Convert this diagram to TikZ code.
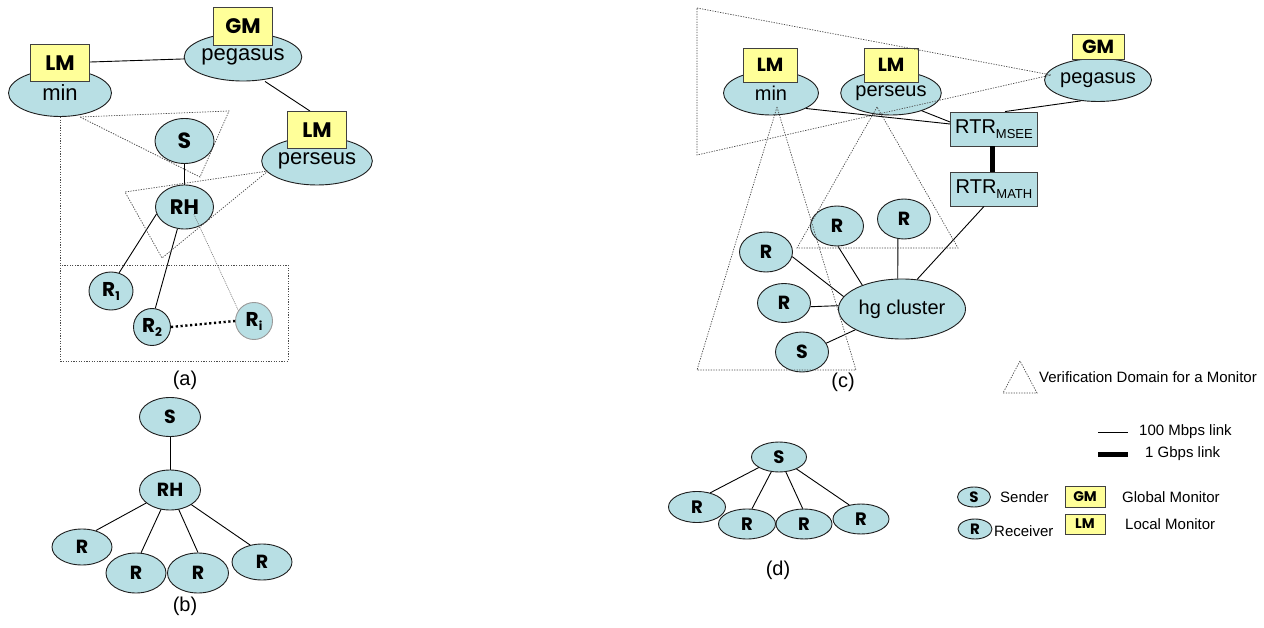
\documentclass[tikz,border=0pt]{standalone}
\usepackage{fontspec}
\setmainfont{Liberation Sans}
\newfontfamily\comic{Poppins}
\usetikzlibrary{shapes.geometric,calc}
\definecolor{lblue}{RGB}{184,223,228}
\definecolor{lyel}{RGB}{255,255,153}
\definecolor{edge}{RGB}{30,30,30}
\pgfdeclarelayer{bg}
\pgfsetlayers{bg,main}
\newcommand{\fs}[1]{\fontsize{#1}{#1}\selectfont}
\tikzset{
  ell/.style={ellipse, draw=edge, fill=lblue, line width=0.9pt, inner sep=0pt},
  mon/.style={rectangle, draw=black!75, fill=lyel, line width=0.9pt, inner sep=0pt},
  cm/.style={font=\comic\bfseries\fs{#1}},
  tx/.style={font=\fs{#1}},
  link/.style={draw=black, line width=0.9pt},
  fat/.style={draw=black, line width=5pt},
  dom/.style={draw=black!70, line width=0.7pt, dash pattern=on 1.3pt off 1.3pt},
  subcap/.style={font=\fs{20}},
}
\newcommand{\Rsub}[1]{R{\fs{12}\raisebox{-4pt}{#1}}}
\begin{document}
\begin{tikzpicture}[x=1pt,y=-1pt]
\useasboundingbox (0,0) rectangle (1264,628);
\begin{pgfonlayer}{bg}
\fill[white] (0,0) rectangle (1264,628);
\end{pgfonlayer}

% ---------------- (a) ----------------
\node[ell, minimum width=103pt, minimum height=47pt, tx=22] (minA) at (60,93) {min};
\node[mon, minimum width=59pt, minimum height=37pt, cm=21] (lmminA) at (60,63) {LM};
\node[ell, minimum width=104pt, minimum height=48pt, tx=22] (pegA) at (243,57) {pegasus};
\node[mon, minimum width=59pt, minimum height=38pt, cm=21] (gmA) at (243,26) {GM};
\node[ell, minimum width=103pt, minimum height=48pt, tx=22] (perA) at (317,161) {perseus};
\node[mon, minimum width=59pt, minimum height=37pt, cm=21] (lmperA) at (317,130) {LM};
\node[ell, minimum width=59pt, minimum height=45pt, cm=22] (sA) at (184.5,141) {S};
\node[ell, minimum width=58pt, minimum height=44pt, cm=21] (rhA) at (184.5,207) {RH};
\node[ell, minimum width=44pt, minimum height=38pt, cm=20] (r1A) at (111,291) {\Rsub{1}};
\node[ell, minimum width=37pt, minimum height=37pt, cm=20] (r2A) at (152,327) {\Rsub{2}};
\node[ell, draw=black!40, minimum width=37pt, minimum height=37pt, cm=20] (riA) at (254,321) {\Rsub{i}};
\node[subcap] (capA) at (185,380) {(a)};

\begin{pgfonlayer}{bg}
  \draw[link] (lmminA.center) -- (pegA.center);
  \draw[link] ([xshift=22pt]pegA.south) -- ([xshift=-7pt]lmperA.north);
  \draw[link] (sA.center) -- (rhA.center);
  \draw[link] (rhA.194) -- (r1A.66);
  \draw[link] (rhA.252) -- (r2A.80);
\end{pgfonlayer}
\draw[draw=black!55, line width=0.6pt, dash pattern=on 1pt off 1pt] ($(rhA.center)!0.45!(rhA.south east)$) -- (riA.146);
\draw[line width=2.4pt, dash pattern=on 2.2pt off 2.6pt] (r2A.east) -- (riA.west);
% domains (a)
\draw[dom] (minA.south) -- (60,361) -- (288,361) -- (288,265) -- (60,265);
\draw[dom] (80,117) -- (229,111) -- (200,177) -- cycle;
\draw[dom] (268,171) -- (125,192) -- (162,258) -- cycle;

% ---------------- (b) ----------------
\node[ell, minimum width=61pt, minimum height=39pt, cm=19] (sB) at (170,417) {S};
\node[ell, minimum width=61pt, minimum height=40pt, cm=19] (rhB) at (170,490) {RH};
\node[ell, minimum width=60pt, minimum height=36pt, cm=19] (rB1) at (82,547) {R};
\node[ell, minimum width=60pt, minimum height=40pt, cm=19] (rB2) at (136,573) {R};
\node[ell, minimum width=61pt, minimum height=40pt, cm=19] (rB3) at (198,573) {R};
\node[ell, minimum width=60pt, minimum height=36pt, cm=19] (rB4) at (262,562) {R};
\node[subcap] (capB) at (185,606) {(b)};
\begin{pgfonlayer}{bg}
  \draw[link] (sB.center) -- (rhB.center);
  \draw[link] (rhB.center) -- (rB1.50);
  \draw[link] (rhB.center) -- (rB2.76);
  \draw[link] (rhB.center) -- (rB3.north);
  \draw[link] (rhB.center) -- (rB4.125);
\end{pgfonlayer}

% ---------------- (c) ----------------
\node[ell, minimum width=95pt, minimum height=44pt, tx=20] (minC) at (771,93) {min};
\node[mon, minimum width=54pt, minimum height=34pt, cm=19] (lmminC) at (770,65) {LM};
\node[ell, minimum width=94pt, minimum height=44pt, tx=20] (perC) at (891,93) {perseus};
\node[mon, minimum width=54pt, minimum height=34pt, cm=19] (lmperC) at (891,65) {LM};
\node[ell, minimum width=94pt, minimum height=43pt, tx=20] (pegC) at (1098,80) {pegasus};
\node[mon, minimum width=52pt, minimum height=25pt, cm=19] (gmC) at (1098,47) {GM};
\node[rectangle, draw=black!75, fill=lblue, line width=0.9pt, inner sep=0pt,
      minimum width=87pt, minimum height=34pt, tx=20] (msee) at (994,129) {RTR{\fs{13}\raisebox{-5pt}{MSEE}}};
\node[rectangle, draw=black!75, fill=lblue, line width=0.9pt, inner sep=0pt,
      minimum width=87pt, minimum height=34pt, tx=20] (math) at (994,189) {RTR{\fs{13}\raisebox{-5pt}{MATH}}};
\node[ell, minimum width=127pt, minimum height=60pt, tx=20] (hg) at (902,309) {hg cluster};
\node[ell, minimum width=53pt, minimum height=40pt, cm=19] (Ra) at (837,226) {R};
\node[ell, minimum width=53pt, minimum height=40pt, cm=19] (Rb) at (904,219) {R};
\node[ell, minimum width=53pt, minimum height=40pt, cm=19] (Rc) at (766,252) {R};
\node[ell, minimum width=53pt, minimum height=39pt, cm=19] (Rd) at (784,303) {R};
\node[ell, minimum width=53pt, minimum height=40pt, cm=19] (Sc) at (802,352) {S};
\node[subcap] (capC) at (843,382) {(c)};
\draw[link] (minC.336) -- ([yshift=5pt]msee.west);
\draw[link] (perC.330) -- ([yshift=7pt]msee.west);
\draw[link] (pegC.231) -- ([xshift=11pt]msee.north);
\draw[fat] ([xshift=-2pt]msee.south) -- ([xshift=-2pt]math.north);
\draw[link] ([xshift=-10pt]math.south) -- (hg.63);
\draw[link] (Ra.273) -- (hg.149);
\draw[link] (Rb.253) -- (hg.98);
\draw[link] (Rc.350) -- (hg.168);
\draw[link] (Rd.352) -- (hg.177);
\draw[link] (Sc.20) -- (hg.204);
% domains (c)
\draw[dom] (697,8) -- (1051,75) -- (697,155) -- cycle;
\draw[dom] (777,107) -- (697,370) -- (856,370) -- cycle;
\draw[dom] (877,107) -- (797,248) -- (958,248) -- cycle;

% ---------------- (d) ----------------
\node[ell, minimum width=55pt, minimum height=30pt, cm=18] (sD) at (779,457) {S};
\node[ell, minimum width=57pt, minimum height=31pt, cm=18] (rD1) at (697,507) {R};
\node[ell, minimum width=57pt, minimum height=30pt, cm=18] (rD2) at (747,524) {R};
\node[ell, minimum width=56pt, minimum height=30pt, cm=18] (rD3) at (804,524) {R};
\node[ell, minimum width=56pt, minimum height=30pt, cm=18] (rD4) at (861,519) {R};
\node[subcap] (capD) at (778,570) {(d)};
\begin{pgfonlayer}{bg}
  \draw[link] (sD.center) -- (rD1.47);
  \draw[link] (sD.center) -- (rD2.72);
  \draw[link] (sD.center) -- (rD3.95);
  \draw[link] (sD.center) -- (rD4.130);
\end{pgfonlayer}

% ---------------- legend ----------------
\draw[dom] (1020,361) -- (1003,393) -- (1037,393) -- cycle;
\node[anchor=west, tx=15, inner sep=0pt] (lgdom) at (1039,377) {Verification Domain for a Monitor};
\coordinate (t1a) at (1098,432);
\coordinate (t1b) at (1128,432);
\draw[link] (t1a) -- (t1b);
\node[anchor=west, tx=15, inner sep=0pt] (lg100) at (1139,432) {100 Mbps link};
\coordinate (t2a) at (1098,454);
\coordinate (t2b) at (1128,454);
\draw[fat] (t2a) -- (t2b);
\node[anchor=west, tx=15, inner sep=0pt] (lg1g) at (1145,454) {1 Gbps link};
\node[ell, minimum width=33pt, minimum height=20pt, cm=15] (lgS) at (974,497) {S};
\node[anchor=west, tx=15, inner sep=0pt] (lgSt) at (1000,497) {Sender};
\node[ell, minimum width=34pt, minimum height=20pt, cm=15] (lgR) at (975,529) {R};
\node[anchor=west, tx=15, inner sep=0pt] (lgRt) at (994,531) {Receiver};
\node[mon, minimum width=40pt, minimum height=21pt, cm=14] (lgGM) at (1085,497) {GM};
\node[anchor=west, tx=15, inner sep=0pt] (lgGMt) at (1122,497) {Global Monitor};
\node[mon, minimum width=40pt, minimum height=20pt, cm=14] (lgLM) at (1085,524) {LM};
\node[anchor=west, tx=15, inner sep=0pt] (lgLMt) at (1125,524) {Local Monitor};
\end{tikzpicture}
\end{document}
